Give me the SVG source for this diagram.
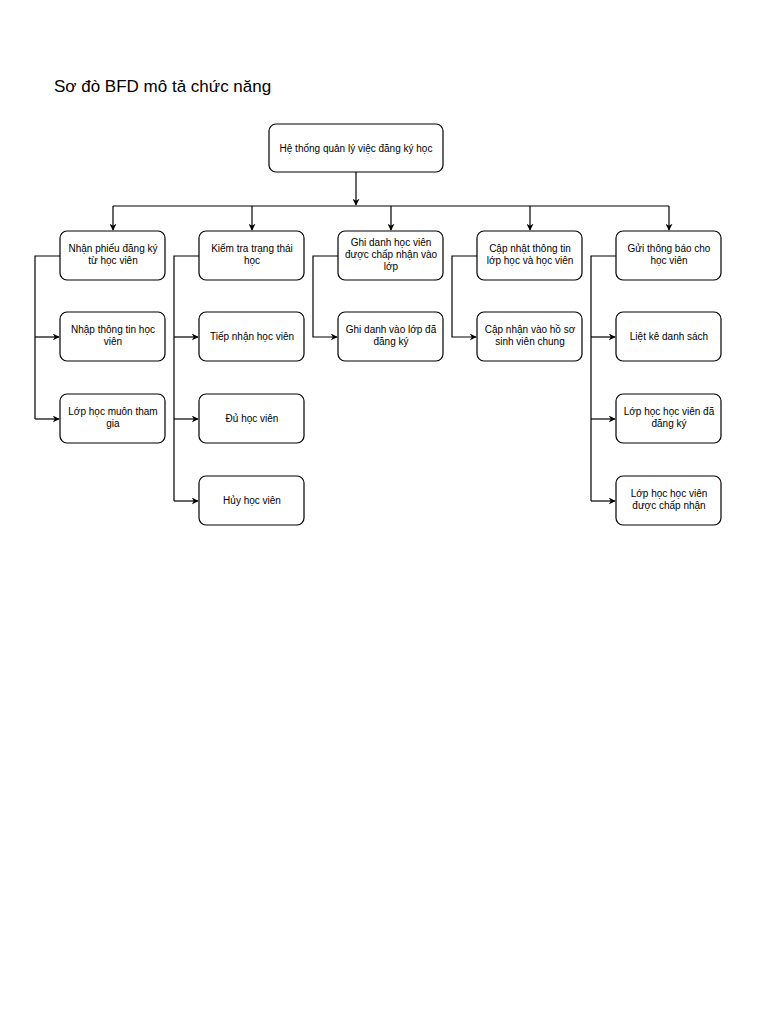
<svg xmlns="http://www.w3.org/2000/svg" width="768" height="1024" viewBox="0 0 768 1024">
<style>
rect.n{fill:#fff;stroke:#000;stroke-width:1.2}
text{font-family:"Liberation Sans",Arial,sans-serif;font-size:10px;text-anchor:middle;fill:#000}
.c{fill:none;stroke:#000;stroke-width:1.2}
</style>
<defs><marker id="a" viewBox="0 0 10 10" refX="9" refY="5" markerWidth="7" markerHeight="7" orient="auto" markerUnits="userSpaceOnUse"><path d="M0,0L10,5L0,10L3,5z" fill="#000"/></marker></defs>
<rect width="768" height="1024" fill="#fff"/>
<text x="54" y="92" style="font-size:17px;text-anchor:start">Sơ đò BFD mô tả chức năng</text>
<g id="connectors">
<path class="c" d="M356,172V205" marker-end="url(#a)"/>
<path class="c" d="M113,206H669"/>
<path class="c" d="M113,206V230" marker-end="url(#a)"/>
<path class="c" d="M252,206V230" marker-end="url(#a)"/>
<path class="c" d="M391,206V230" marker-end="url(#a)"/>
<path class="c" d="M530,206V230" marker-end="url(#a)"/>
<path class="c" d="M669,206V230" marker-end="url(#a)"/>
<path class="c" d="M60,256H35V419"/>
<path class="c" d="M35,337H59" marker-end="url(#a)"/>
<path class="c" d="M35,419H59" marker-end="url(#a)"/>
<path class="c" d="M199,256H174V501"/>
<path class="c" d="M174,337H198" marker-end="url(#a)"/>
<path class="c" d="M174,419H198" marker-end="url(#a)"/>
<path class="c" d="M174,501H198" marker-end="url(#a)"/>
<path class="c" d="M338,256H313V337H337" marker-end="url(#a)"/>
<path class="c" d="M477,256H452V337H476" marker-end="url(#a)"/>
<path class="c" d="M616,256H591V501"/>
<path class="c" d="M591,337H615" marker-end="url(#a)"/>
<path class="c" d="M591,419H615" marker-end="url(#a)"/>
<path class="c" d="M591,501H615" marker-end="url(#a)"/>
</g>
<g id="root"><rect class="n" x="269" y="124" width="174" height="48" rx="7"/><text x="356" y="152">Hệ thống quản lý việc đăng ký học</text></g>
<g id="n1"><rect class="n" x="60" y="231" width="105" height="49" rx="7"/><text x="113" y="252">Nhận phiếu đăng ký</text><text x="113" y="264">từ học viên</text></g>
<g id="n1a"><rect class="n" x="60" y="312" width="105" height="49" rx="7"/><text x="113" y="333">Nhập thông tin học</text><text x="113" y="345">viên</text></g>
<g id="n1b"><rect class="n" x="60" y="394" width="105" height="49" rx="7"/><text x="113" y="415">Lớp học muôn tham</text><text x="113" y="427">gia</text></g>
<g id="n2"><rect class="n" x="199" y="231" width="105" height="49" rx="7"/><text x="252" y="252">Kiểm tra trạng thái</text><text x="252" y="264">học</text></g>
<g id="n2a"><rect class="n" x="199" y="312" width="105" height="49" rx="7"/><text x="252" y="340">Tiếp nhận học viên</text></g>
<g id="n2b"><rect class="n" x="199" y="394" width="105" height="49" rx="7"/><text x="252" y="422">Đủ học viên</text></g>
<g id="n2c"><rect class="n" x="199" y="476" width="105" height="49" rx="7"/><text x="252" y="504">Hủy học viên</text></g>
<g id="n3"><rect class="n" x="338" y="231" width="105" height="49" rx="7"/><text x="391" y="246">Ghi danh học viên</text><text x="391" y="258">được chấp nhận vào</text><text x="391" y="270">lớp</text></g>
<g id="n3a"><rect class="n" x="338" y="312" width="105" height="49" rx="7"/><text x="391" y="333">Ghi danh vào lớp đã</text><text x="391" y="345">đăng ký</text></g>
<g id="n4"><rect class="n" x="477" y="231" width="105" height="49" rx="7"/><text x="530" y="252">Cập nhật thông tin</text><text x="530" y="264">lớp học và học viên</text></g>
<g id="n4a"><rect class="n" x="477" y="312" width="105" height="49" rx="7"/><text x="530" y="333">Cập nhận vào hồ sơ</text><text x="530" y="345">sinh viên chung</text></g>
<g id="n5"><rect class="n" x="616" y="231" width="105" height="49" rx="7"/><text x="669" y="252">Gửi thông báo cho</text><text x="669" y="264">học viên</text></g>
<g id="n5a"><rect class="n" x="616" y="312" width="105" height="49" rx="7"/><text x="669" y="340">Liệt kê danh sách</text></g>
<g id="n5b"><rect class="n" x="616" y="394" width="105" height="49" rx="7"/><text x="669" y="415">Lớp học học viên đã</text><text x="669" y="427">đăng ký</text></g>
<g id="n5c"><rect class="n" x="616" y="476" width="105" height="49" rx="7"/><text x="669" y="497">Lớp học học viên</text><text x="669" y="509">được chấp nhận</text></g>
</svg>
